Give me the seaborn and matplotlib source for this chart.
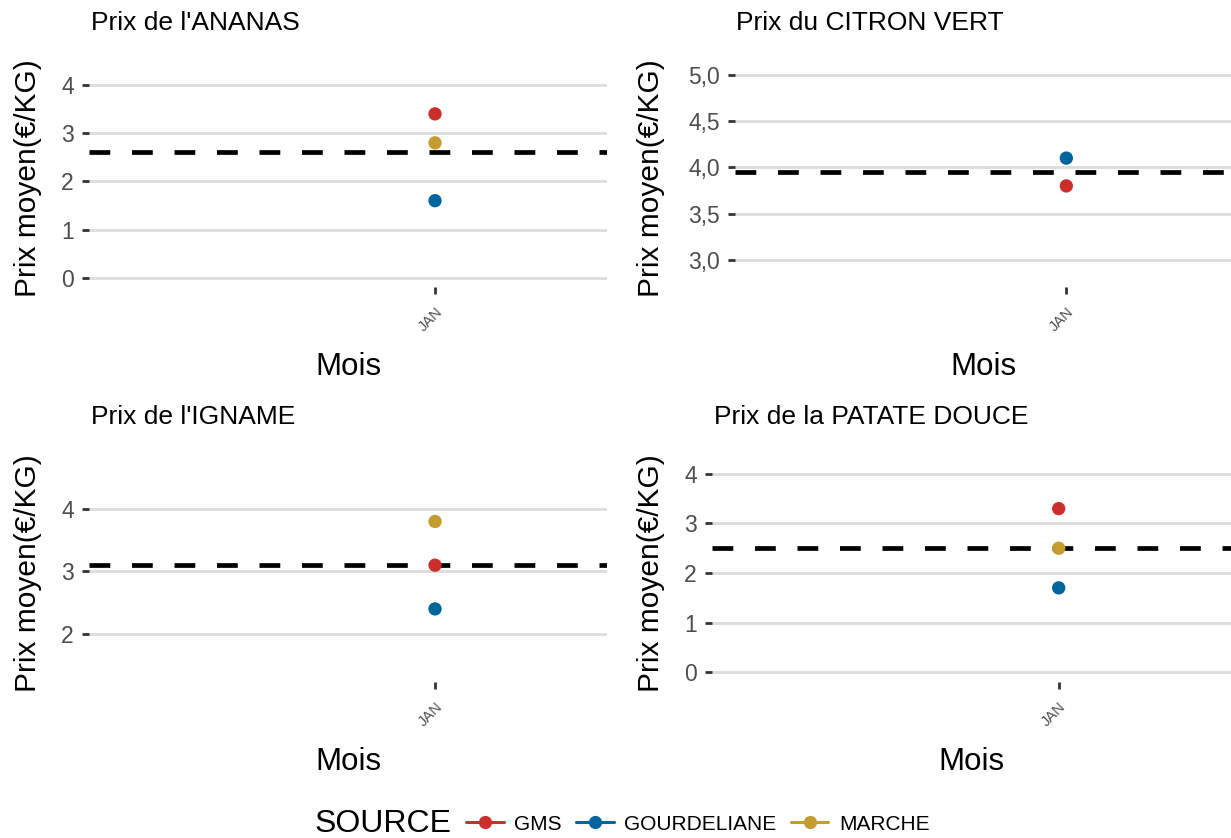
import numpy as np
import pandas as pd
import matplotlib
matplotlib.use("Agg")
import matplotlib.pyplot as plt
import seaborn as sns
from matplotlib.lines import Line2D
from matplotlib.ticker import FuncFormatter

# Data
mois = ["JAN"]
sources = ["GMS", "GOURDELIANE", "MARCHE"]
couleurs = ["#CB2F2B", "#00659A", "#C49C30"]

ananas_src = ["GMS", "GOURDELIANE", "MARCHE"]
ananas_prix = [3.4, 1.6, 2.8]
citron_src = ["GMS", "GOURDELIANE"]
citron_prix = [3.8, 4.1]
igname_src = ["GMS", "GOURDELIANE", "MARCHE"]
igname_prix = [3.1, 2.4, 3.8]
patate_src = ["GMS", "GOURDELIANE", "MARCHE"]
patate_prix = [3.3, 1.7, 2.5]

titres = ["Prix de l'ANANAS", "Prix du CITRON VERT", "Prix de l'IGNAME", "Prix de la PATATE DOUCE"]

sns.set_theme(style="white")
plt.rcParams["font.family"] = ["Liberation Sans", "DejaVu Sans"]
plt.rcParams["text.color"] = "black"

W, H = 1231, 838
fig = plt.figure(figsize=(W / 100, H / 100), dpi=100)


def px_axes(left, top, right, bottom):
    return fig.add_axes([left / W, 1 - bottom / H, (right - left) / W, (bottom - top) / H])


palette = dict(zip(sources, couleurs))

panels = [
    (ananas_src, ananas_prix, (89, 70, 607, 287), (-0.19, 4.31), [0, 1, 2, 3, 4], False, 42),
    (citron_src, citron_prix, (735, 70, 1231, 287), (2.71, 5.05), [3.0, 3.5, 4.0, 4.5, 5.0], True, 665),
    (igname_src, igname_prix, (89, 464, 607, 682), (1.23, 4.72), [2, 3, 4], False, 42),
    (patate_src, patate_prix, (712, 464, 1231, 682), (-0.2, 4.2), [0, 1, 2, 3, 4], False, 665),
]

for (src, prix, box, ylim, yticks, decimal, ylab_x), titre in zip(panels, titres):
    left, top, right, bottom = box
    ax = px_axes(left, top, right, bottom)
    df = pd.DataFrame({"Mois": mois * len(src), "SOURCE": src, "Prix": prix})
    # ligne de moyenne
    ax.axhline(np.mean(prix), color="black", lw=3.4, ls=(0, (4.4, 4.6)), zorder=2)
    sns.scatterplot(data=df, x="Mois", y="Prix", hue="SOURCE", palette=palette,
                    s=92, edgecolor="none", legend=False, ax=ax, zorder=3)
    ax.set_xlim(-1.0, 0.497)
    ax.set_ylim(*ylim)
    ax.set_yticks(yticks)
    if decimal:
        ax.yaxis.set_major_formatter(FuncFormatter(lambda v, p: f"{v:.1f}".replace(".", ",")))
    ax.grid(axis="y", color="#DCDCDC", lw=2)
    ax.grid(axis="x", visible=False)
    for s in ax.spines.values():
        s.set_visible(False)
    ax.tick_params(axis="y", left=True, length=5, width=2, color="#333333",
                   labelsize=16.5, labelcolor="#4D4D4D", pad=6)
    ax.tick_params(axis="x", bottom=True, length=5, width=2, color="#333333",
                   labelsize=10.5, labelcolor="#4D4D4D", pad=8)
    for lab in ax.get_xticklabels():
        lab.set_rotation(45)
        lab.set_ha("right")
        lab.set_va("top")
        lab.set_rotation_mode("anchor")
    ax.set_ylabel("Prix moyen(€/KG)", fontsize=21.5, color="black")
    ax.yaxis.set_label_coords((ylab_x - left) / (right - left), 0.5)
    ax.set_xlabel("Mois", fontsize=22.5, color="black")
    ax.xaxis.set_label_coords(0.5, -(65 / (bottom - top)))
    ax.text(0.003, 1 + 47 / (bottom - top), titre, transform=ax.transAxes,
            fontsize=19, va="center", ha="left", color="black")

# Legend
fig.text(315 / W, 1 - 824 / H, "SOURCE", fontsize=23, va="center", ha="left", color="black")
handles = [Line2D([0], [0], color=c, lw=2.2, marker="o", markersize=8.5) for c in couleurs]
leg = fig.legend(handles, sources, loc="center left", bbox_to_anchor=(466 / W, 1 - 824 / H),
                 ncol=3, frameon=False, fontsize=15, handlelength=1.8, handletextpad=0.5,
                 columnspacing=0.7, borderaxespad=0, borderpad=0)
for t in leg.get_texts():
    t.set_color("black")

fig.savefig("out.png", dpi=100, facecolor="white")
